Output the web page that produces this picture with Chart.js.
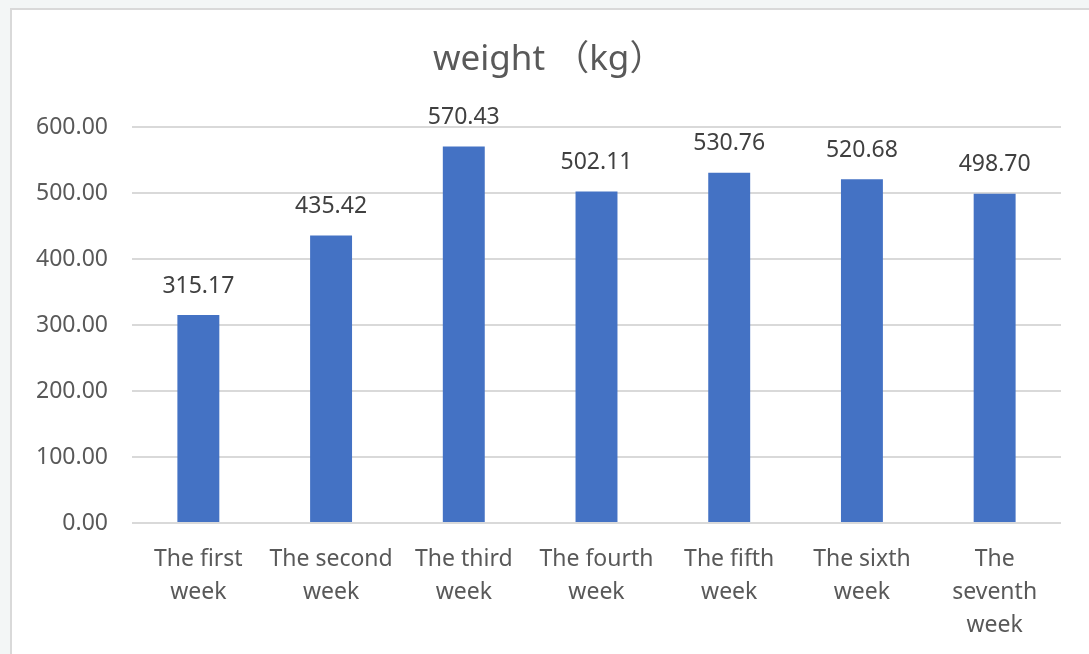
<!DOCTYPE html>
<html>
<head>
<meta charset="utf-8">
<title>weight (kg)</title>
<script src="https://cdn.jsdelivr.net/npm/chart.js@4"></script>
<style>
  html, body { margin:0; padding:0; background:#f3f6f6; overflow:hidden; }
  #frame { position:absolute; left:10px; top:8px; width:1100px; height:700px; background:#fff; border:2px solid #d9d9d9; }
  #wrap { position:absolute; left:0; top:0; width:1089px; height:654px; }
</style>
</head>
<body>
<div id="frame"></div>
<div id="wrap"><canvas id="chart" width="1089" height="654"></canvas></div>
<script>
// ---- Data ----
const categories = [
  ['The first', 'week'],
  ['The second', 'week'],
  ['The third', 'week'],
  ['The fourth', 'week'],
  ['The fifth', 'week'],
  ['The sixth', 'week'],
  ['The', 'seventh', 'week']
];
const weights = [315.17, 435.42, 570.43, 502.11, 530.76, 520.68, 498.70];
const yTicks = [0, 100, 200, 300, 400, 500, 600];
const TITLE = 'weight （kg）';

const FONT = '"Noto Sans", "Noto Sans CJK SC", sans-serif';

// title drawn by hand so its visual centre lines up with the original
const chartTitle = {
  id: 'chartTitle',
  afterDraw(chart){
    const ctx = chart.ctx;
    ctx.save();
    ctx.font = `35px ${FONT}`;
    ctx.fillStyle = '#595959';
    ctx.textAlign = 'left';
    ctx.textBaseline = 'middle';
    ctx.fillText(TITLE, 433, 60);
    ctx.restore();
  }
};

// value labels above each bar
const barValues = {
  id: 'barValues',
  afterDatasetsDraw(chart){
    const ctx = chart.ctx;
    const meta = chart.getDatasetMeta(0);
    ctx.save();
    ctx.font = `23px ${FONT}`;
    ctx.fillStyle = '#404040';
    ctx.textAlign = 'center';
    ctx.textBaseline = 'middle';
    meta.data.forEach((bar, i) => {
      ctx.fillText(weights[i].toFixed(2), bar.x, bar.y - 29);
    });
    ctx.restore();
  }
};

new Chart(el('chart'), {
  type: 'bar',
  data: {
    labels: categories,
    datasets: [{
      label: 'weight',
      data: weights,
      backgroundColor: '#4472c4',
      categoryPercentage: 1,
      barPercentage: 0.316
    }]
  },
  options: {
    responsive: false,
    animation: false,
    devicePixelRatio: 1,
    layout: { padding: { top: 127, left: 0, right: 28, bottom: 0 } },
    plugins: {
      legend: { display: false },
      tooltip: { enabled: false },
      title: { display: false }
    },
    scales: {
      x: {
        grid: { display: false },
        border: { display: false },
        ticks: {
          color: '#595959',
          font: { family: FONT, size: 23, lineHeight: 1.435 },
          padding: 11.5,
          maxRotation: 0, minRotation: 0, autoSkip: false
        },
        afterFit(scale){ scale.height = 131; }
      },
      y: {
        min: 0, max: 600,
        afterBuildTicks(scale){ scale.ticks = yTicks.map(v => ({ value: v })); },
        grid: { color: '#d9d9d9', lineWidth: 2, drawTicks: false },
        border: { display: false },
        ticks: {
          color: '#595959',
          font: { family: FONT, size: 23 },
          padding: 24,
          callback: (v) => Number(v).toFixed(2)
        },
        afterFit(scale){ scale.width = 132; }
      }
    }
  },
  plugins: [barValues, chartTitle]
});

function el(id){ return document.getElementById(id); }
</script>
</body>
</html>
